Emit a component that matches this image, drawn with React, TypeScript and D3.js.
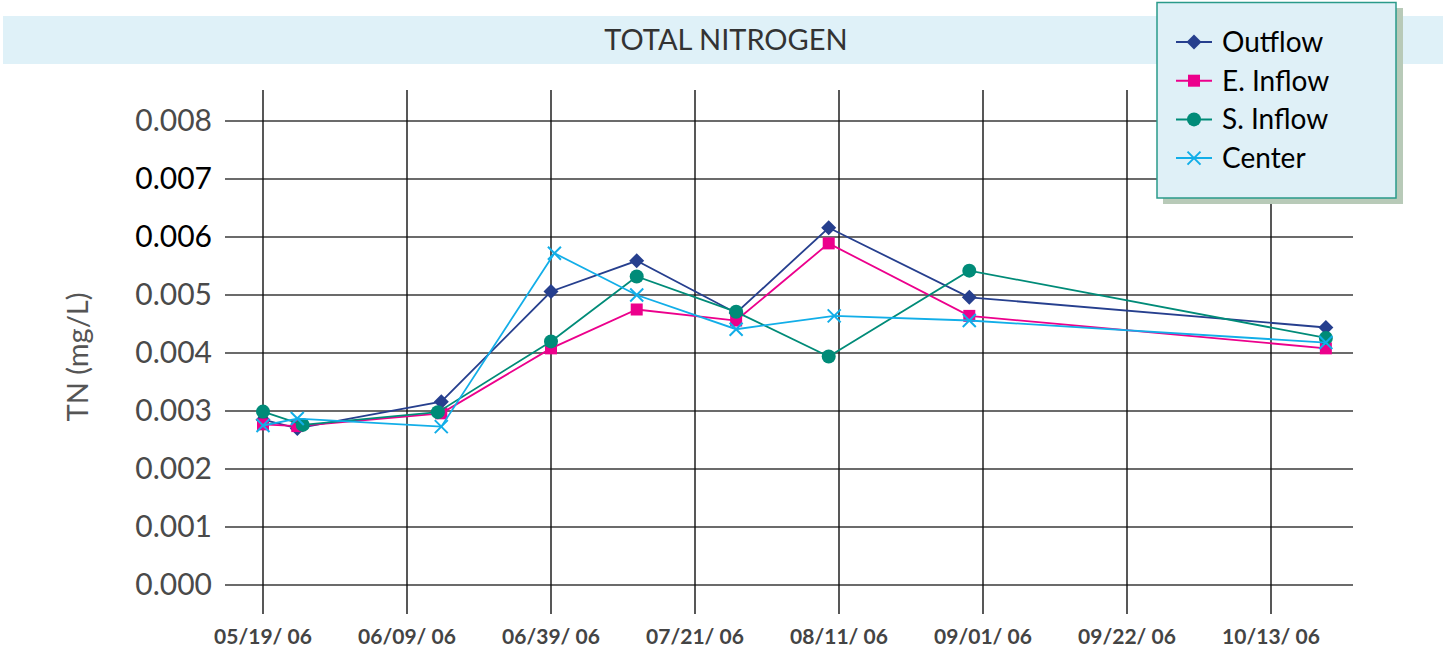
import React from 'react';
import * as d3 from 'd3';

// taille fixe de la page
const W = 1443;
const H = 656;
const FONT = 'Lato, "DejaVu Sans", sans-serif';

// jours depuis le 05/19/06
const tickDays = [0, 21, 42, 63, 84, 105, 126, 147];
const tickLabels = ['05/19/ 06', '06/09/ 06', '06/39/ 06', '07/21/ 06', '08/11/ 06', '09/01/ 06', '09/22/ 06', '10/13/ 06'];
const yTicks = [0, 0.001, 0.002, 0.003, 0.004, 0.005, 0.006, 0.007, 0.008];
const yTickDark = [false, false, false, false, false, false, true, true, false];

const outflowDays = [0, 5, 26, 42, 54.5, 69, 82.5, 103, 155];
const outflow = [0.00285, 0.0027, 0.00316, 0.00506, 0.00559, 0.00469, 0.00616, 0.00496, 0.00444];
const eInflowDays = [0, 5, 26, 42, 54.5, 69, 82.5, 103, 155];
const eInflow = [0.00277, 0.00274, 0.00296, 0.00408, 0.00475, 0.00456, 0.00589, 0.00464, 0.00408];
const sInflowDays = [0, 5.8, 25.5, 42, 54.5, 69, 82.5, 103, 155];
const sInflow = [0.00299, 0.00276, 0.00298, 0.0042, 0.00532, 0.00471, 0.00394, 0.00542, 0.00426];
const centerDays = [0, 5, 26, 42.5, 54.5, 69, 83.3, 103, 155];
const center = [0.00275, 0.00287, 0.00273, 0.00572, 0.005, 0.00441, 0.00464, 0.00456, 0.00418];

const series = [
  { name: 'Outflow', days: outflowDays, values: outflow, color: '#263f8e', marker: 'diamond' },
  { name: 'E. Inflow', days: eInflowDays, values: eInflow, color: '#ec008c', marker: 'square' },
  { name: 'S. Inflow', days: sInflowDays, values: sInflow, color: '#008b78', marker: 'circle' },
  { name: 'Center', days: centerDays, values: center, color: '#12aee8', marker: 'x' },
];

const x = d3.scaleLinear().domain([0, 147]).range([263, 1271]);
const y = d3.scaleLinear().domain([0, 0.008]).range([585, 121]);

function Marker({ type, cx, cy, color }: { type: string; cx: number; cy: number; color: string }) {
  if (type === 'diamond') {
    const r = 7.5;
    return <path d={`M${cx},${cy - r}L${cx + r},${cy}L${cx},${cy + r}L${cx - r},${cy}Z`} fill={color} />;
  }
  if (type === 'square') {
    return <rect x={cx - 6} y={cy - 6} width={12} height={12} fill={color} />;
  }
  if (type === 'circle') {
    return <circle cx={cx} cy={cy} r={7} fill={color} />;
  }
  const r = 6.5;
  return (
    <path
      d={`M${cx - r},${cy - r}L${cx + r},${cy + r}M${cx - r},${cy + r}L${cx + r},${cy - r}`}
      stroke={color}
      strokeWidth={2}
      fill="none"
    />
  );
}

export default function App() {
  const line = d3.line<[number, number]>().x(d => x(d[0])).y(d => y(d[1]));

  return (
    <div style={{ position: 'fixed', left: 0, top: 0 }}>
      <svg width={W} height={H} style={{ display: 'block', background: '#fff' }}>
        {/* bandeau du titre */}
        <rect x={3} y={16} width={W - 3} height={48} fill="#dff1f8" />
        <text x={726} y={50} textAnchor="middle" fontFamily={FONT} fontSize={29} fill="#333">
          TOTAL NITROGEN
        </text>

        {/* grille */}
        {yTicks.map(t => (
          <line key={t} x1={225} x2={1353} y1={y(t)} y2={y(t)} stroke="#3a3a3a" strokeWidth={1.6} />
        ))}
        {tickDays.map(d => (
          <line key={d} x1={x(d)} x2={x(d)} y1={90} y2={614} stroke="#111" strokeWidth={1.4} />
        ))}

        {/* axe y */}
        {yTicks.map((t, i) => (
          <text
            key={t}
            x={212}
            y={y(t) + 10}
            textAnchor="end"
            fontFamily={FONT}
            fontSize={30}
            fill={yTickDark[i] ? '#000' : '#4a4a4a'}
          >
            {t.toFixed(3)}
          </text>
        ))}
        <text
          transform="translate(88,357) rotate(-90)"
          textAnchor="middle"
          fontFamily={FONT}
          fontSize={29}
          fill="#555"
        >
          TN (mg/L)
        </text>

        {/* axe x */}
        {tickDays.map((d, i) => (
          <text key={d} x={x(d)} y={644} textAnchor="middle" fontFamily={FONT} fontSize={21} fontWeight="bold" fill="#444">
            {tickLabels[i]}
          </text>
        ))}

        {/* séries */}
        {series.map(s => {
          const pts = s.days.map((d, i) => [d, s.values[i]] as [number, number]);
          return (
            <g key={s.name}>
              <path d={line(pts) || ''} fill="none" stroke={s.color} strokeWidth={1.8} />
              {pts.map((p, i) => (
                <Marker key={i} type={s.marker} cx={x(p[0])} cy={y(p[1])} color={s.color} />
              ))}
            </g>
          );
        })}

        {/* légende */}
        <rect x={1163} y={8} width={240} height={196} fill="#b8cab8" />
        <rect x={1157} y={2.5} width={239} height={195.5} fill="#dff0f7" stroke="#2a9a8a" strokeWidth={1.5} />
        {series.map((s, i) => {
          const ly = 42 + i * 38.7;
          return (
            <g key={s.name}>
              <line x1={1176} x2={1212} y1={ly} y2={ly} stroke={s.color} strokeWidth={2} />
              <Marker type={s.marker} cx={1194} cy={ly} color={s.color} />
              <text x={1222} y={ly + 10} fontFamily={FONT} fontSize={28} fill="#000">
                {s.name}
              </text>
            </g>
          );
        })}
      </svg>
    </div>
  );
}
